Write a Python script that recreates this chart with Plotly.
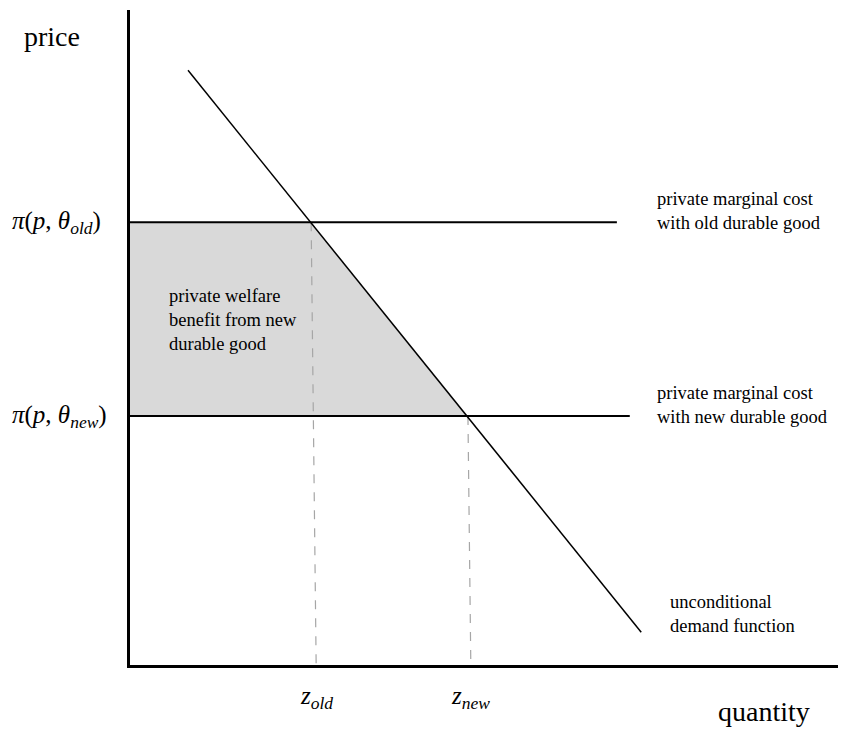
import plotly.graph_objects as go

# Conceptual diagram values (axis units 0..10)
demand_q = [0.81, 7.14]          # unconditional demand function, quantity
demand_p = [9.08, 0.50]          # unconditional demand function, price
price_old = 6.76                 # pi(p, theta_old)
price_new = 3.80                 # pi(p, theta_new)
z_old = 2.53                     # quantity at old cost
z_new = 4.72                     # quantity at new cost
z_old_base = 2.60                # where drop line meets the quantity axis
z_new_base = 4.76
cost_old_end = 6.80              # right end of old marginal cost line
cost_new_end = 6.98              # right end of new marginal cost line

SERIF = "Palatino Linotype, Book Antiqua, Palatino, Liberation Serif, serif"
MATH = "Cambria Math, Liberation Serif, serif"

fig = go.Figure()

# shaded welfare area
fig.add_trace(go.Scatter(
    x=[0, z_old, z_new, 0, 0],
    y=[price_old, price_old, price_new, price_new, price_old],
    fill="toself", fillcolor="#d9d9d9", line=dict(width=0),
    mode="lines", hoverinfo="skip"))

# dashed drop lines
for zq, zb, pp in [(z_old, z_old_base, price_old), (z_new, z_new_base, price_new)]:
    fig.add_trace(go.Scatter(x=[zq, zb], y=[pp, 0], mode="lines",
                             line=dict(color="#a6a6a6", width=1.2, dash="dash")))

# marginal cost lines
fig.add_trace(go.Scatter(x=[0, cost_old_end], y=[price_old, price_old], mode="lines",
                         line=dict(color="black", width=2)))
fig.add_trace(go.Scatter(x=[0, cost_new_end], y=[price_new, price_new], mode="lines",
                         line=dict(color="black", width=2)))

# demand line
fig.add_trace(go.Scatter(x=demand_q, y=demand_p, mode="lines",
                         line=dict(color="black", width=1.5)))

annotations = [
    # outside the plotting area (paper-referenced)
    dict(xref="paper", yref="paper", x=-0.151, y=0.959, text="price",
         font=dict(family=SERIF, size=28), xanchor="left"),
    dict(xref="paper", yref="paper", x=0.818, y=-0.071, text="quantity",
         font=dict(family=SERIF, size=28), xanchor="left"),
    dict(xref="paper", yref="y", x=-0.168, y=price_old,
         text="<i>π</i>(<i>p</i>, <i>θ</i><sub><i>old</i></sub>)",
         font=dict(family=MATH, size=25), xanchor="left"),
    dict(xref="paper", yref="y", x=-0.168, y=price_new,
         text="<i>π</i>(<i>p</i>, <i>θ</i><sub><i>new</i></sub>)",
         font=dict(family=MATH, size=25), xanchor="left"),
    dict(xref="x", yref="paper", x=z_old_base, y=-0.05, text="<i>z</i><sub><i>old</i></sub>",
         font=dict(family=MATH, size=25), xanchor="center"),
    dict(xref="x", yref="paper", x=z_new_base, y=-0.05, text="<i>z</i><sub><i>new</i></sub>",
         font=dict(family=MATH, size=25), xanchor="center"),
    # inside the plotting area
    dict(xref="x", yref="y", x=7.33, y=price_old + 0.17,
         text="private marginal cost<br>with old durable good",
         font=dict(family=SERIF, size=18.5), xanchor="left", align="left"),
    dict(xref="x", yref="y", x=7.33, y=price_new + 0.17,
         text="private marginal cost<br>with new durable good",
         font=dict(family=SERIF, size=18.5), xanchor="left", align="left"),
    dict(xref="x", yref="y", x=0.52, y=5.27,
         text="private welfare<br>benefit from new<br>durable good",
         font=dict(family=SERIF, size=18.5), xanchor="left", align="left"),
    dict(xref="x", yref="y", x=7.51, y=0.78, text="unconditional<br>demand function",
         font=dict(family=SERIF, size=18.5), xanchor="left", align="left"),
]
for a in annotations:
    a.update(showarrow=False, yanchor="middle")
    a["font"]["color"] = "black"

fig.update_layout(
    width=838, height=722,
    margin=dict(l=122, r=0, t=2, b=65),
    paper_bgcolor="white", plot_bgcolor="white",
    showlegend=False,
    annotations=annotations,
    xaxis=dict(range=[0, 10], showgrid=False, zeroline=False, showticklabels=False,
               ticks="", showline=True, linecolor="black", linewidth=3),
    yaxis=dict(range=[0, 10], showgrid=False, zeroline=False, showticklabels=False,
               ticks="", showline=True, linecolor="black", linewidth=3),
)

fig.write_html("out.html")
